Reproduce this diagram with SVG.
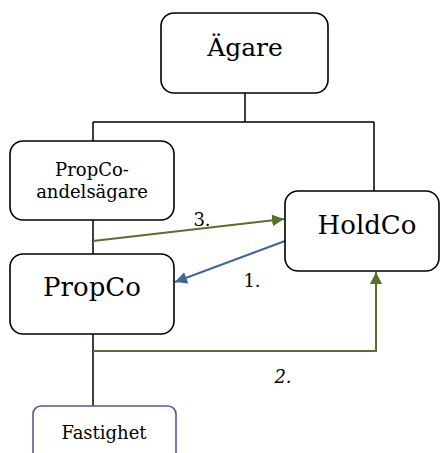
<svg xmlns="http://www.w3.org/2000/svg" width="440" height="453" viewBox="0 0 440 453">
<style>
.box{fill:#fff;stroke:#000;stroke-width:1.6}
.fast{fill:#fff;stroke:#6a5090;stroke-width:1.6}
.t{font-family:'DejaVu Serif','Liberation Serif',serif;fill:#000;text-anchor:middle}
.wire{fill:none;stroke:#000;stroke-width:1.5}
.g{fill:none;stroke:#58702e;stroke-width:2}
.b{fill:none;stroke:#3d6799;stroke-width:2}
</style>
<defs>
<marker id="ag" viewBox="0 0 10 10" refX="10" refY="5" markerWidth="6" markerHeight="6" orient="auto" markerUnits="strokeWidth"><path d="M0,0 L10,5 L0,10 z" fill="#58702e"/></marker>
<marker id="ab" viewBox="0 0 10 10" refX="10" refY="5" markerWidth="6" markerHeight="6" orient="auto" markerUnits="strokeWidth"><path d="M0,0 L10,5 L0,10 z" fill="#3d6799"/></marker>
</defs>
<g id="connectors">
<path class="wire" d="M245,93 V122 M93,122 H374 M93,122 V141 M374,122 V191 M93,220 V254 M93,334 V406"/>
<path class="g" d="M93,241 L284,219" marker-end="url(#ag)"/>
<path class="b" d="M285,241 L175,282" marker-end="url(#ab)"/>
<path class="g" d="M93,351 H376 V272" marker-end="url(#ag)"/>
<text class="t" x="202" y="226" font-size="18">3.</text>
<text class="t" x="252" y="287" font-size="18">1.</text>
<text class="t" x="283" y="383" font-size="18" font-style="italic">2.</text>
</g>
<g id="agare">
<rect class="box" x="161" y="13" width="167" height="80" rx="13"/>
<text class="t" x="245" y="56" font-size="25">Ägare</text>
</g>
<g id="propco-andelsagare">
<rect class="box" x="10" y="141" width="164" height="79" rx="13"/>
<text class="t" x="92" y="176" font-size="18">PropCo-</text>
<text class="t" x="92" y="198" font-size="18">andelsägare</text>
</g>
<g id="holdco">
<rect class="box" x="285" y="191" width="154" height="80" rx="13"/>
<text class="t" x="367" y="234" font-size="26">HoldCo</text>
</g>
<g id="propco">
<rect class="box" x="10" y="254" width="164" height="80" rx="13"/>
<text class="t" x="92" y="296" font-size="26">PropCo</text>
</g>
<g id="fastighet">
<rect class="fast" x="33" y="406" width="143" height="60" rx="8"/>
<text class="t" x="104" y="439" font-size="18">Fastighet</text>
</g>
</svg>
